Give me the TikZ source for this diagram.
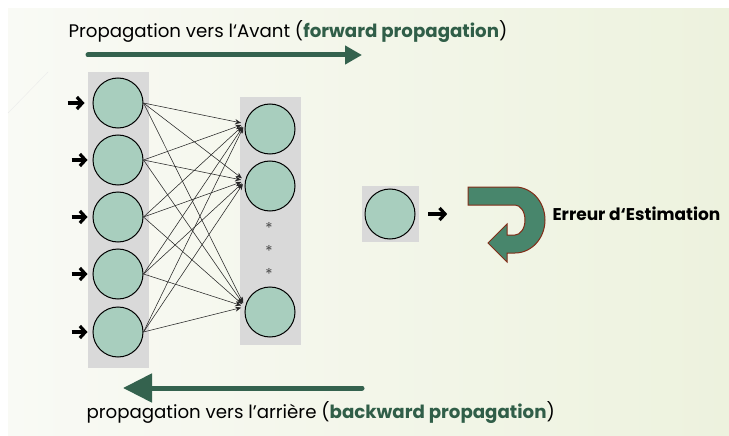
\documentclass[tikz,border=0pt]{standalone}
\usepackage{fontspec}
\setmainfont{Poppins}
\usetikzlibrary{arrows.meta}

\definecolor{neuronfill}{RGB}{168,206,190}
\definecolor{panelgray}{RGB}{217,217,217}
\definecolor{darkgreen}{RGB}{52,98,78}
\definecolor{textgreen}{RGB}{48,94,72}
\definecolor{uturnfill}{RGB}{72,134,108}
\definecolor{uturnedge}{RGB}{130,45,25}
\definecolor{bgleft}{RGB}{249,250,245}
\definecolor{bgright}{RGB}{237,242,222}

\begin{document}
\begin{tikzpicture}[x=1pt, y=-1pt,
        neuron/.style={circle, draw, line width=1pt, fill=neuronfill, minimum size=50pt, inner sep=0pt},
        panel/.style={rectangle, fill=panelgray, inner sep=0pt},
        link/.style={-{Stealth[length=6pt,width=5pt]}, draw=black!85, line width=0.55pt, shorten >=4pt},
        inarrow/.style={-{Straight Barb[length=5.5pt,width=12pt]}, line width=3.2pt},
        bigarrow/.style={draw=darkgreen, line width=5pt, line cap=round},
        title/.style={anchor=base west, font=\fontsize{18.2}{21}\selectfont}
    ]

    % Slide background
    \useasboundingbox (0,0) rectangle (729,436);
    \shade[left color=bgleft, right color=bgright] (8,9) rectangle (729,436);
    \draw[black!8] (8,113) -- (48,72);

    % Forward propagation (top)
    \node[title] (fwdtext) at (65,38) {Propagation vers l‘Avant (\textcolor{textgreen}{\textbf{forward propagation}})};
    \coordinate (fwdstart) at (88,55);
    \coordinate (fwdend) at (362,55);
    \draw[bigarrow, -{Triangle[length=17pt,width=18pt]}] (fwdstart) -- (fwdend);

    % Input layer
    \node[panel, minimum width=61pt, minimum height=296pt] (inpanel) at (118.5,220) {};
    \node[neuron] (l1) at (118,103) {};
    \node[neuron] (l2) at (118,160) {};
    \node[neuron] (l3) at (118,217) {};
    \node[neuron] (l4) at (118,274) {};
    \node[neuron] (l5) at (118,332) {};

    % Hidden layer
    \node[panel, minimum width=61pt, minimum height=248pt] (hidpanel) at (270.5,221) {};
    \node[neuron] (r1) at (270,129) {};
    \node[neuron] (r2) at (270,186) {};
    \node[neuron] (r3) at (270,312) {};
    \node[text=black!70, font=\fontsize{15}{15}\selectfont] (dot1) at (269,228) {*};
    \node[text=black!70, font=\fontsize{15}{15}\selectfont] (dot2) at (269,251) {*};
    \node[text=black!70, font=\fontsize{15}{15}\selectfont] (dot3) at (269,274) {*};

    % Inputs
    \draw[inarrow] ([xshift=-25pt]l1.west) -- ([xshift=-8pt]l1.west);
    \foreach \i in {2,...,5}
        \draw[inarrow] ([xshift=-21pt]l\i.west) -- ([xshift=-5pt]l\i.west);

    % Connections
    \foreach \i in {1,...,5}
        \foreach \j in {1,2,3}
            \draw[link] (l\i.east) -- (r\j.168);

    % Output
    \node[panel, minimum width=57pt, minimum height=56pt] (outpanel) at (390.5,214) {};
    \node[neuron] (out) at (390,214) {};
    \draw[inarrow] ([xshift=9pt]outpanel.east) -- ([xshift=28pt]outpanel.east);

    % Error turn-back arrow
    \draw[uturnedge, fill=uturnfill, line width=1pt, line join=miter]
        (468,187) -- (515,187)
        .. controls (531.6,187) and (545,201.8) .. (545,220)
        .. controls (545,238.2) and (531.6,253) .. (515,253)
        -- (507,253) -- (507,262) -- (488,243) -- (507,224) -- (507,235) -- (515,235)
        .. controls (520.5,235) and (525,228.3) .. (525,220)
        .. controls (525,211.7) and (520.5,205) .. (515,205)
        -- (468,205) -- cycle;
    \node[anchor=west, font=\bfseries\fontsize{17}{19}\selectfont] (err) at (549,214) {Erreur d‘Estimation};

    % Backward propagation (bottom)
    \coordinate (bwdstart) at (362,388);
    \coordinate (bwdend) at (123,388);
    \draw[bigarrow, -{Triangle[length=29pt,width=28pt]}] (bwdstart) -- (bwdend);
    \node[title] (bwdtext) at (83,418) {propagation vers l'arrière (\textcolor{textgreen}{\textbf{backward propagation}})};

\end{tikzpicture}
\end{document}
